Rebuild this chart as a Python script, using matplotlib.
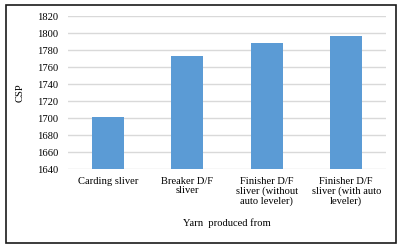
import matplotlib.pyplot as plt
from matplotlib.patches import Rectangle

categories = ["Carding sliver", "Breaker D/F\nsliver", "Finisher D/F\nsliver (without\nauto leveler)",
              "Finisher D/F\nsliver (with auto\nleveler)"]
csp = [1701, 1773, 1788, 1797]
yticks = [1640, 1660, 1680, 1700, 1720, 1740, 1760, 1780, 1800, 1820]

plt.rcParams['font.family'] = ['Liberation Serif', 'DejaVu Serif']

fig = plt.figure(figsize=(4.02, 2.49), dpi=100)
fig.patches.append(Rectangle((6 / 402, 6 / 249), 390 / 402, 238 / 249, transform=fig.transFigure,
                             fill=False, edgecolor="#1a1a1a", lw=1.2))
ax = fig.add_axes([68 / 402, 1 - 169 / 249, 318 / 402, 153 / 249])

x = range(len(categories))
ax.bar(x, csp, width=0.4, color="#5b9bd5", zorder=3)
ax.set_ylim(1640, 1820)
ax.set_xlim(-0.5, 3.5)
ax.set_yticks(yticks)
ax.set_xticks(list(x))
ax.set_xticklabels(categories, fontsize=7.6, linespacing=1.0)
ax.tick_params(axis="y", labelsize=7.6, length=0, pad=7)
ax.tick_params(axis="x", length=0, pad=6)
ax.grid(axis="y", color="#d9d9d9", lw=1, zorder=0)
for s in ax.spines.values():
    s.set_visible(False)
ax.set_ylabel("CSP", fontsize=7.6, labelpad=9)
ax.set_xlabel("Yarn  produced from", fontsize=7.6, labelpad=9)

fig.savefig("out.png", dpi=100)
